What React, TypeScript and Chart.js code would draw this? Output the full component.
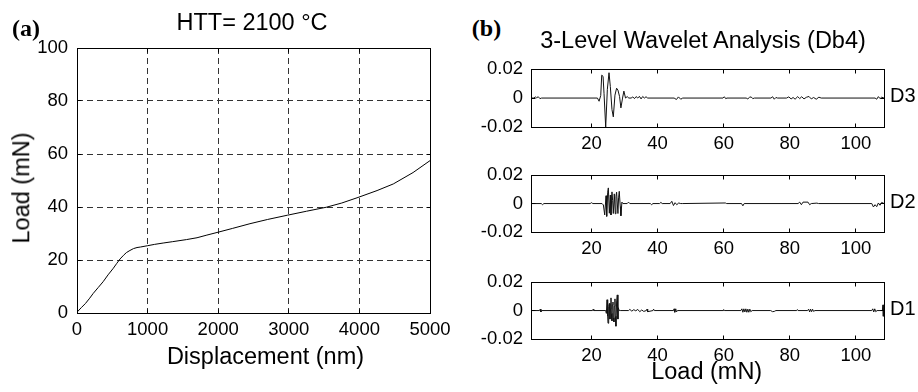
import React, { useEffect, useRef } from "react";
import { Chart, registerables } from "chart.js";

Chart.register(...registerables);

const FONT = "'Liberation Sans', Arial, Helvetica, sans-serif";
const SERIF = "'Liberation Serif', 'Times New Roman', serif";
const TICK_SIZE = 18.5;
const TITLE_SIZE = 23.5;

// ---------- (a) load–displacement curve ----------
const displacementNm = [
  0, 60, 120, 180, 230, 300, 370, 440, 515, 560,
  610, 660, 700, 750, 800, 850, 900, 1000, 1100, 1220,
  1350, 1550, 1700, 1840, 2000, 2200, 2450, 2700, 2980, 3250,
  3530, 3750, 3980, 4250, 4480, 4760, 5000,
];
const loadMn = [
  0.3, 2.0, 3.6, 5.6, 7.4, 9.6, 11.8, 14.4, 16.9, 18.6,
  20.4, 21.8, 22.8, 23.6, 24.3, 24.7, 24.9, 25.4, 25.9, 26.4,
  26.9, 27.7, 28.4, 29.4, 30.5, 31.9, 33.7, 35.3, 36.9, 38.4,
  39.9, 41.5, 43.6, 46.2, 48.7, 53.0, 57.5,
];

// ---------- (b) wavelet detail coefficients vs load ----------
const d3Load = [
  1.7, 2.6, 3.0, 3.4, 3.9, 4.4, 4.9, 21.8, 22.3, 22.8,
  23.1, 23.5, 23.8, 24.3, 24.8, 25.3, 25.7, 26.2, 26.6, 27.1,
  27.6, 28.0, 28.5, 28.9, 29.4, 29.8, 30.3, 30.8, 31.3, 32.0,
  32.5, 33.0, 33.5, 34.0, 34.5, 35.0, 35.5, 36.0, 36.5, 37.0,
  45.0, 45.7, 46.3, 47.0, 47.6, 59.8, 60.2, 60.6, 61.0, 66.8,
  67.3, 67.8, 68.3, 68.8, 69.3, 74.3, 74.8, 75.3, 75.8, 76.3,
  79.0, 79.7, 80.4, 81.0, 81.6, 82.4, 83.0, 83.6, 84.3, 85.0,
  85.8, 86.5, 87.2, 88.0, 88.8, 89.5, 105.8, 106.3, 106.8, 107.3,
  107.8, 108.5,
];
const d3Coef = [
  0, 0, 0.0008, 0.0002, 0.0009, -0.0004, 0, 0, -0.0022, 0.0018,
  0.0158, 0.015, 0.003, -0.02, 0.006, 0.0175, 0.008, -0.008, -0.013, 0.002,
  0.0068, 0.0055, 0.001, -0.0068, 0, 0.0048, 0, 0.001, 0, 0,
  0.0008, -0.0004, 0.001, 0, 0.0012, -0.0006, 0.0011, 0, 0.0009, 0,
  0, -0.001, 0.0008, -0.0008, 0, 0, 0.0009, -0.0004, 0, 0,
  -0.0006, 0.0005, 0.0008, -0.0004, 0, 0, 0.0009, -0.0008, 0.0004, 0,
  0, 0.0008, -0.0006, 0.0004, -0.0008, 0.001, -0.0004, 0.0009, -0.0006, 0.0005,
  0.0011, -0.0006, 0.0004, -0.0008, 0.0006, 0, 0, -0.0008, 0.001, -0.0004,
  0.0006, 0,
];

const d2Load = [
  1.7, 4.8, 5.2, 5.6, 19.6, 20.0, 20.4, 23.2, 23.6, 24.0,
  24.4, 24.6, 24.9, 25.1, 25.4, 25.7, 25.9, 26.2, 26.4, 26.6,
  26.9, 27.2, 27.4, 27.6, 28.0, 28.2, 28.4, 28.7, 28.9, 29.2,
  29.5, 30.8, 31.2, 31.6, 37.8, 38.2, 38.6, 40.6, 41.0, 41.4,
  43.8, 44.3, 44.8, 45.3, 45.8, 46.4, 47.0, 47.6, 60.5, 60.9,
  65.4, 65.8, 66.2, 82.5, 83.0, 83.5, 84.0, 85.5, 86.0, 86.5,
  88.2, 88.7, 104.8, 105.3, 105.8, 106.3, 106.8, 107.3, 107.8, 108.5,
];
const d2Coef = [
  0, 0, -0.0008, 0, 0, 0.0006, 0, 0, -0.001, -0.008,
  0.0055, -0.009, 0.008, 0.011, -0.0068, 0.006, -0.008, 0.0082, 0.002, -0.007,
  0.0068, -0.0072, 0.005, 0.008, -0.007, 0.004, 0.0086, -0.002, -0.0086, 0.001,
  0, 0, 0.001, 0, 0, -0.0008, 0, 0, 0.0008, 0,
  0, 0.0016, -0.0014, 0.0006, -0.0008, 0.0004, 0, 0, 0.0004, 0,
  0, -0.0016, 0, 0, 0.001, -0.0008, 0.001, 0.001, -0.0008, 0,
  0.0003, 0, 0, -0.0024, -0.0008, -0.0022, 0.0004, -0.0012, 0.0008, 0,
];

const d1Load = [
  1.7, 4.3, 4.5, 4.7, 4.9, 20.3, 20.5, 20.7, 24.3, 24.5,
  24.7, 24.9, 25.0, 25.2, 25.4, 25.6, 25.7, 25.9, 26.0, 26.2,
  26.3, 26.5, 26.6, 26.8, 26.9, 27.1, 27.2, 27.4, 27.6, 27.8,
  28.0, 28.1, 28.4, 28.7, 31.2, 31.6, 32.2, 32.8, 33.4, 34.0,
  34.6, 35.2, 35.8, 36.6, 36.8, 37.0, 38.6, 38.8, 39.0, 44.8,
  45.0, 45.2, 45.5, 45.7, 46.0, 59.8, 60.0, 60.2, 65.2, 65.5,
  65.8, 66.1, 66.4, 66.7, 67.0, 67.3, 67.6, 67.9, 68.2, 68.6,
  74.2, 74.8, 75.3, 75.8, 82.1, 82.3, 82.5, 85.4, 85.7, 86.0,
  86.3, 86.6, 86.9, 87.2, 87.6, 104.8, 105.1, 105.4, 105.7, 106.0,
  106.4, 108.0, 108.2, 108.3, 108.5,
];
const d1Coef = [
  0, 0, 0.001, -0.001, 0, 0, 0.0009, 0, 0, -0.002,
  0.0076, -0.004, -0.0089, 0.003, 0.005, -0.006, 0.001, 0.0089, -0.002, -0.0072,
  0.004, 0.006, -0.005, -0.008, 0.003, 0.0082, -0.004, -0.011, 0.006, 0.011,
  -0.006, 0.002, 0, 0, 0, 0.0008, -0.0004, 0.0006, -0.0002, 0.0008,
  -0.0008, 0.0004, -0.0006, 0, 0.001, -0.0008, 0, 0.001, 0, 0,
  0.0012, -0.0012, 0.0012, -0.001, 0, 0, 0.0007, 0, 0, 0.0012,
  -0.0012, 0.0012, -0.001, 0.0012, -0.0012, 0.001, -0.0012, 0.001, -0.0008, 0,
  0, -0.0008, -0.0006, 0, 0, 0.0007, 0, 0, 0.001, -0.001,
  0.001, -0.0008, 0.0009, -0.0006, 0, 0, 0.0012, -0.001, 0.0012, -0.0008,
  0, 0, 0.004, -0.004, 0,
];

const loadAxisMin = 1.7;
const loadAxisMax = 108.5;

// ---------- MATLAB-like box with inward ticks ----------
const boxPlugin = {
  id: "matlabBox",
  afterDraw(chart: any) {
    const { ctx, chartArea } = chart;
    const al = (p: number) => Math.round(p - 0.5) + 0.5;
    const L = al(chartArea.left);
    const R = al(chartArea.right);
    const T = al(chartArea.top);
    const B = al(chartArea.bottom);
    const tl = 4;
    ctx.save();
    ctx.setLineDash([]);
    ctx.strokeStyle = "#000";
    ctx.lineWidth = 1;
    ctx.beginPath();
    const xs = chart.scales.x;
    const ys = chart.scales.y;
    xs.ticks.forEach((t: any) => {
      const px = al(xs.getPixelForValue(t.value));
      ctx.moveTo(px, B);
      ctx.lineTo(px, B - tl);
      ctx.moveTo(px, T);
      ctx.lineTo(px, T + tl);
    });
    ys.ticks.forEach((t: any) => {
      const py = al(ys.getPixelForValue(t.value));
      ctx.moveTo(L, py);
      ctx.lineTo(L + tl, py);
      ctx.moveTo(R, py);
      ctx.lineTo(R - tl, py);
    });
    ctx.stroke();
    ctx.strokeRect(L, T, R - L, B - T);
    ctx.restore();
  },
};

const tickFont = { family: FONT, size: TICK_SIZE };

function loadCurveConfig(): any {
  return {
    type: "line",
    data: {
      datasets: [
        {
          data: displacementNm.map((x, i) => ({ x, y: loadMn[i] })),
          borderColor: "#000",
          borderWidth: 1,
          pointRadius: 0,
          tension: 0,
          fill: false,
        },
      ],
    },
    options: {
      responsive: false,
      animation: false,
      devicePixelRatio: 1,
      events: [],
      layout: { padding: { top: 48, right: 30, left: 0, bottom: 0 } },
      plugins: { legend: { display: false }, tooltip: { enabled: false } },
      scales: {
        x: {
          type: "linear",
          min: 0,
          max: 5000,
          afterFit: (s: any) => {
            s.height = 79;
          },
          grid: { color: "#333", lineWidth: 1, drawTicks: false },
          border: { display: false, dash: [6, 4] },
          ticks: {
            stepSize: 1000,
            padding: 6,
            color: "#000",
            font: tickFont,
            maxRotation: 0,
            autoSkip: false,
            callback: (v: any) => String(v),
          },
        },
        y: {
          type: "linear",
          min: 0,
          max: 100,
          afterFit: (s: any) => {
            s.width = 77;
          },
          grid: { color: "#333", lineWidth: 1, drawTicks: false },
          border: { display: false, dash: [6, 4] },
          ticks: {
            stepSize: 20,
            padding: 9,
            color: "#000",
            font: tickFont,
            autoSkip: false,
            callback: (v: any) => String(v),
          },
        },
      },
    },
    plugins: [boxPlugin],
  };
}

function waveletConfig(xs: number[], ys: number[]): any {
  return {
    type: "line",
    data: {
      datasets: [
        {
          data: xs.map((x, i) => ({ x, y: ys[i] })),
          borderColor: "#111",
          borderWidth: 1,
          pointRadius: 0,
          tension: 0,
          fill: false,
        },
      ],
    },
    options: {
      responsive: false,
      animation: false,
      devicePixelRatio: 1,
      events: [],
      layout: { padding: { top: 14, right: 34, left: 0, bottom: 0 } },
      plugins: { legend: { display: false }, tooltip: { enabled: false } },
      scales: {
        x: {
          type: "linear",
          min: loadAxisMin,
          max: loadAxisMax,
          afterFit: (s: any) => {
            s.height = 28;
          },
          grid: { display: false, drawTicks: false },
          border: { display: false },
          ticks: {
            stepSize: 20,
            includeBounds: false,
            padding: 6,
            color: "#000",
            font: tickFont,
            maxRotation: 0,
            autoSkip: false,
            callback: (v: any) => String(v),
          },
        },
        y: {
          type: "linear",
          min: -0.02,
          max: 0.02,
          afterFit: (s: any) => {
            s.width = 71;
          },
          grid: { display: false, drawTicks: false },
          border: { display: false },
          ticks: {
            stepSize: 0.02,
            padding: 8,
            color: "#000",
            font: tickFont,
            autoSkip: false,
            callback: (v: any) => (Math.abs(v) < 1e-9 ? "0" : Number(v).toFixed(2)),
          },
        },
      },
    },
    plugins: [boxPlugin],
  };
}

function ChartCanvas(props: { left: number; top: number; width: number; height: number; make: () => any }) {
  const ref = useRef<HTMLCanvasElement>(null);
  useEffect(() => {
    const chart = new Chart(ref.current as HTMLCanvasElement, props.make());
    return () => chart.destroy();
  }, []);
  return (
    <canvas
      ref={ref}
      width={props.width}
      height={props.height}
      style={{ position: "absolute", left: props.left, top: props.top, width: props.width, height: props.height }}
    />
  );
}

function Label(props: {
  x: number;
  y: number;
  text: string;
  size: number;
  family?: string;
  bold?: boolean;
  rotate?: number;
  anchor?: "center" | "left";
}) {
  const tx = props.anchor === "left" ? "0" : "-50%";
  return (
    <div
      style={{
        position: "absolute",
        left: props.x,
        top: props.y,
        transform: `translate(${tx}, -50%)` + (props.rotate ? ` rotate(${props.rotate}deg)` : ""),
        fontFamily: props.family || FONT,
        fontSize: props.size,
        fontWeight: props.bold ? "bold" : "normal",
        lineHeight: 1,
        whiteSpace: "nowrap",
        color: "#000",
      }}
    >
      {props.text}
    </div>
  );
}

export default function App() {
  return (
    <div
      style={{
        position: "fixed",
        left: 0,
        top: 0,
        width: 918,
        height: 392,
        background: "#fff",
        overflow: "hidden",
      }}
    >
      <ChartCanvas left={0} top={0} width={460} height={392} make={loadCurveConfig} />
      <ChartCanvas left={460} top={50} width={458} height={105} make={() => waveletConfig(d3Load, d3Coef)} />
      <ChartCanvas left={460} top={156} width={458} height={104} make={() => waveletConfig(d2Load, d2Coef)} />
      <ChartCanvas left={460} top={263} width={458} height={104} make={() => waveletConfig(d1Load, d1Coef)} />

      <Label x={26} y={27.5} text="(a)" size={24} family={SERIF} bold />
      <Label x={486.5} y={27.5} text="(b)" size={24} family={SERIF} bold />
      <Label x={252} y={23} text="HTT= 2100 °C" size={TITLE_SIZE} />
      <Label x={21.5} y={188} text="Load (mN)" size={TITLE_SIZE} rotate={-90} />
      <Label x={265.5} y={357} text="Displacement (nm)" size={TITLE_SIZE} />
      <Label x={703} y={41.3} text="3-Level Wavelet Analysis (Db4)" size={TITLE_SIZE} />
      <Label x={890} y={95} text="D3" size={20} anchor="left" />
      <Label x={890} y={201} text="D2" size={20} anchor="left" />
      <Label x={890} y={308} text="D1" size={20} anchor="left" />
      <Label x={706.7} y={372} text="Load (mN)" size={TITLE_SIZE} />
    </div>
  );
}
